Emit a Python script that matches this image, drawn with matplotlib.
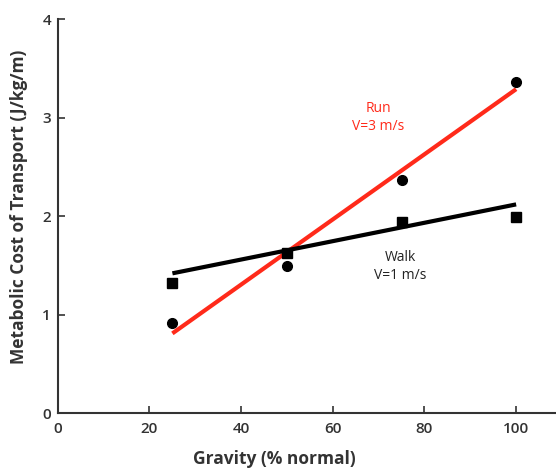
import numpy as np
import matplotlib
matplotlib.use("Agg")
import matplotlib.pyplot as plt

## Data
gravity = [25, 50, 75, 100]
run_cost = [0.92, 1.49, 2.37, 3.36]
walk_cost = [1.32, 1.63, 1.94, 1.99]

## Fitted lines (end points as drawn)
fit_x = [25, 100]
run_fit = [0.81, 3.29]
walk_fit = [1.42, 2.12]

x_ticks = [0, 20, 40, 60, 80, 100]
y_ticks = [0, 1, 2, 3, 4]

plt.rcParams['font.family'] = ['Open Sans', 'DejaVu Sans']

fig = plt.figure(figsize=(5.56, 4.69), dpi=100)
ax = fig.add_axes([0.104, 0.119, 0.896, 0.840])

red = "#ff2a1a"
ax.plot(fit_x, run_fit, color=red, lw=3, solid_capstyle="butt", zorder=2)
ax.plot(fit_x, walk_fit, color="black", lw=3, solid_capstyle="butt", zorder=2)
ax.plot(gravity, run_cost, "o", color="black", ms=7, zorder=3)
ax.plot(gravity, walk_cost, "s", color="black", ms=7, zorder=3)

ax.text(69.9, 3.0, "Run\nV=3 m/s", color=red, ha="center", va="center",
        fontsize=10, linespacing=1.3)
ax.text(74.7, 1.49, "Walk\nV=1 m/s", color="#222222", ha="center", va="center",
        fontsize=10, linespacing=1.3)

ax.set_xlim(0, 108.7)
ax.set_ylim(0, 4)
ax.set_xticks(x_ticks)
ax.set_yticks(y_ticks)
ax.tick_params(direction="in", length=5, width=1.2, colors="#333333",
               labelsize=11, labelcolor="#333333")
ax.tick_params(axis="x", pad=6)
ax.tick_params(axis="y", pad=5)
for lab in ax.get_xticklabels() + ax.get_yticklabels():
    lab.set_fontweight("semibold")
ax.spines["top"].set_visible(False)
ax.spines["right"].set_visible(False)
for s in ("left", "bottom"):
    ax.spines[s].set_color("#333333")
    ax.spines[s].set_linewidth(1.5)

ax.set_xlabel("Gravity (% normal)", fontsize=12.5, fontweight="bold",
              color="#333333", va="center", ha="center")
ax.set_ylabel("Metabolic Cost of Transport (J/kg/m)", fontsize=12.5,
              fontweight="bold", color="#333333", va="center", ha="center")
ax.xaxis.set_label_coords(0.434, -0.117)
ax.yaxis.set_label_coords(-0.078, 0.525)

fig.savefig("out.png", dpi=100)
